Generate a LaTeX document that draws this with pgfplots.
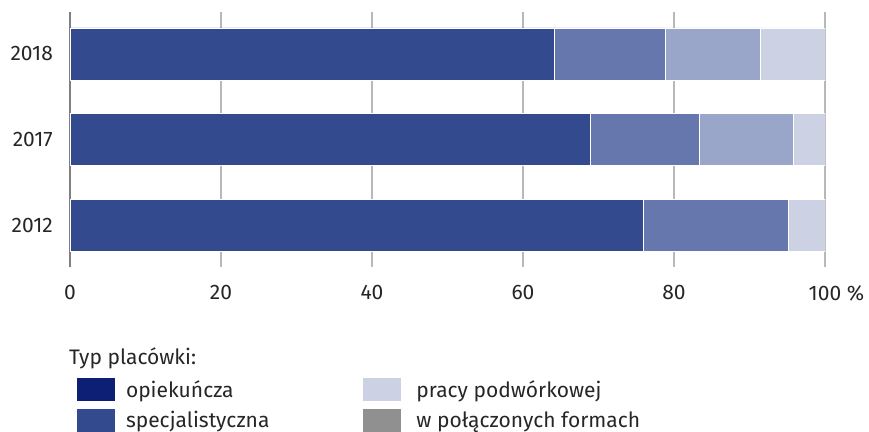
\documentclass[border=0pt]{standalone}
\usepackage{pgfplots}
\pgfplotsset{compat=1.18}
\usepackage{fontspec}
\setmainfont{Fira Sans}

\definecolor{navy}{HTML}{0C1F75}
\definecolor{spec}{HTML}{344A8F}
\definecolor{midblue}{HTML}{6677AD}
\definecolor{paleblue}{HTML}{9AA6C9}
\definecolor{lightblue}{HTML}{CCD2E4}
\definecolor{mixgray}{HTML}{909090}
\definecolor{txt}{HTML}{262626}
\newcommand{\lbl}{\fontsize{21bp}{25bp}\selectfont}

\begin{document}
\begin{tikzpicture}
\useasboundingbox (0,0) rectangle (869bp,-432bp);
\begin{axis}[
    name=ax,
    at={(70bp,-267bp)}, anchor=south west,
    scale only axis, width=755bp, height=255bp,
    xbar stacked, bar width=52bp,
    xmin=0, xmax=100, ymin=-0.49, ymax=2.49,
    ytick={0,1,2}, yticklabels={2012,2017,2018},
    xtick={0,20,40,60,80,100},
    xticklabels={0,20,40,60,80,100\rlap{\ \%}},
    axis lines*=left,
    x axis line style={draw=none},
    y axis line style={draw=black!50, line width=1.2bp},
    xmajorgrids, grid style={draw=black!28, line width=1.2bp},
    major tick length=0pt,
    every tick label/.append style={font=\lbl, text=txt, inner sep=0pt},
    xticklabel style={anchor=north, yshift=-18bp},
    yticklabel style={anchor=east, xshift=-17bp},
    legend columns=2,
    legend cell align=left,
    legend style={at={(0,0)}, anchor=north west, xshift=7bp, yshift=-111bp,
        draw=none, fill=none, inner sep=0pt, outer sep=0pt, row sep=8bp,
        font=\lbl, text=txt,
        nodes={inner sep=0pt},
        /tikz/column 1/.style={column sep=11bp},
        /tikz/column 2/.style={column sep=94bp},
        /tikz/column 3/.style={column sep=15bp}},
    legend image code/.code={\path[#1, draw=none] (0bp,-11.5bp) rectangle (38bp,11.5bp);},
    every axis plot/.append style={draw=white, line width=0.7bp},
]
\addplot[fill=spec, forget plot] coordinates {(75.9,0) (68.9,1) (64.1,2)};
\addplot[fill=midblue, forget plot] coordinates {(19.2,0) (14.4,1) (14.7,2)};
\addplot[fill=paleblue, forget plot] coordinates {(0,0) (12.5,1) (12.6,2)};
\addplot[fill=lightblue, forget plot] coordinates {(4.9,0) (4.2,1) (8.6,2)};

\addlegendimage{fill=navy}
\addlegendentry{opiekuńcza}
\addlegendimage{fill=lightblue}
\addlegendentry{pracy podwórkowej}
\addlegendimage{fill=spec}
\addlegendentry{specjalistyczna}
\addlegendimage{fill=mixgray}
\addlegendentry{w połączonych formach}
\end{axis}
\node[anchor=base west, inner sep=0pt, font=\lbl, text=txt]
    at ([shift={(-1bp,-97bp)}]ax.south west) {Typ placówki:};
\end{tikzpicture}
\end{document}
